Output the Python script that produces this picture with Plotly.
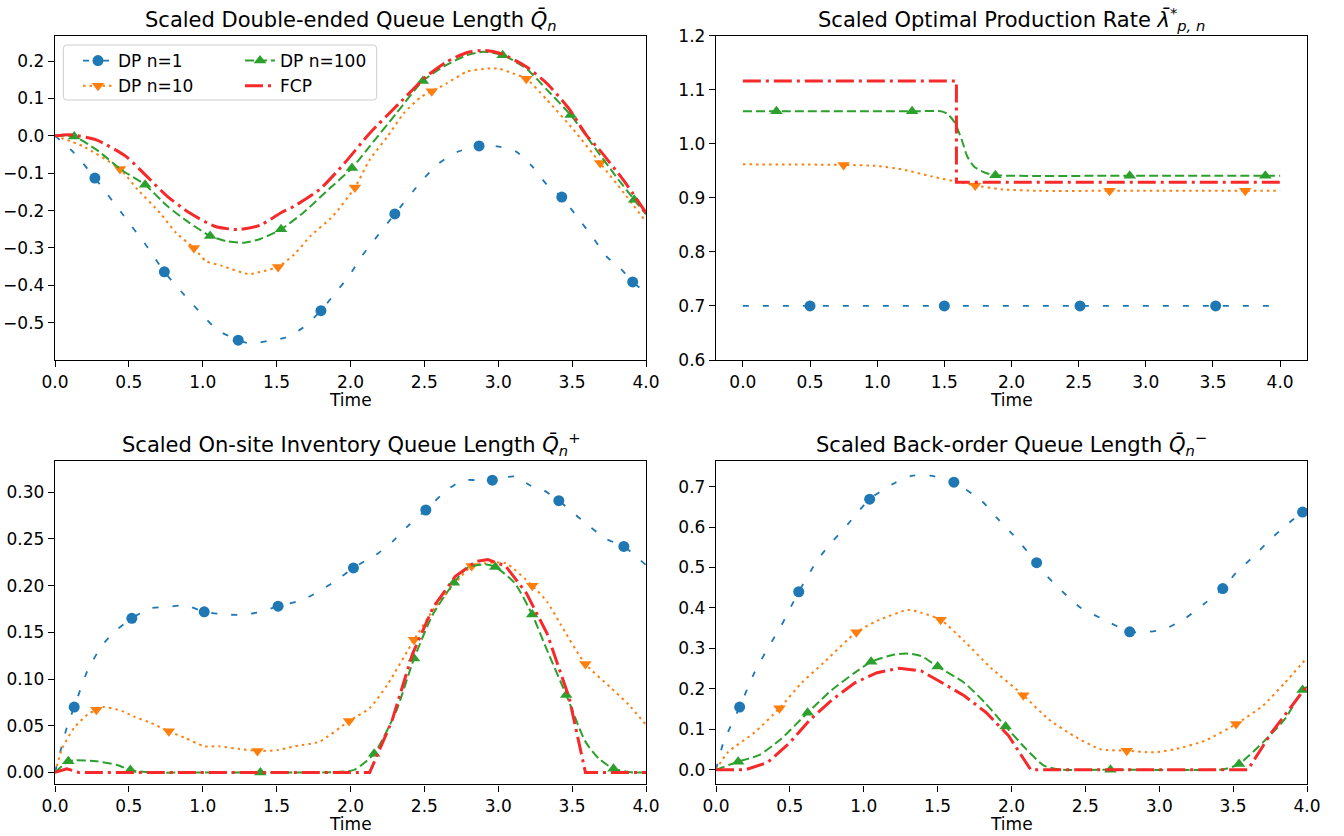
import plotly.graph_objects as go

# ---------------------------------------------------------------- data ----
# Scaled double-ended queue length  Q_n  (top left)
tl_n1_t = [0, 0.13, 0.27, 0.45, 0.62, 0.74, 0.9, 1.0, 1.1, 1.24, 1.33, 1.45, 1.56, 1.68, 1.8, 1.89,
           1.99, 2.08, 2.19, 2.3, 2.49, 2.6, 2.73, 2.87, 2.99, 3.12, 3.23, 3.33, 3.43, 3.53, 3.65,
           3.73, 3.83, 3.91, 4.0]
tl_n1_q = [0, -0.046, -0.113, -0.206, -0.295, -0.364, -0.437, -0.48, -0.52, -0.547, -0.557, -0.548,
           -0.54, -0.513, -0.468, -0.424, -0.375, -0.32, -0.264, -0.209, -0.117, -0.073, -0.042,
           -0.027, -0.028, -0.042, -0.082, -0.131, -0.164, -0.215, -0.277, -0.322, -0.356, -0.391,
           -0.42]
tl_n1_mark = [2, 5, 9, 14, 19, 23, 28, 33]

tl_n10_t = [0, 0.19, 0.44, 0.56, 0.71, 0.82, 0.94, 1.02, 1.13, 1.31, 1.39, 1.51, 1.62, 1.73, 1.88,
            2.03, 2.13, 2.25, 2.36, 2.48, 2.55, 2.65, 2.79, 2.93, 3.0, 3.1, 3.19, 3.33, 3.51, 3.69,
            3.85, 4.0]
tl_n10_q = [0, -0.028, -0.089, -0.144, -0.206, -0.26, -0.3, -0.335, -0.348, -0.37, -0.364, -0.351,
            -0.317, -0.268, -0.215, -0.138, -0.064, -0.002, 0.06, 0.105, 0.119, 0.14, 0.172, 0.18,
            0.18, 0.167, 0.153, 0.096, 0.016, -0.073, -0.153, -0.23]
tl_n10_mark = [2, 6, 11, 15, 20, 26, 29]

tl_n100_t = [0, 0.13, 0.28, 0.45, 0.61, 0.76, 0.91, 1.05, 1.16, 1.28, 1.39, 1.53, 1.68, 1.85, 2.01,
             2.13, 2.31, 2.49, 2.65, 2.79, 2.9, 3.03, 3.19, 3.33, 3.49, 3.65, 3.79, 3.92, 4.0]
tl_n100_q = [0, -0.002, -0.037, -0.091, -0.131, -0.188, -0.233, -0.268, -0.282, -0.286, -0.276,
             -0.25, -0.206, -0.144, -0.086, -0.028, 0.06, 0.147, 0.19, 0.216, 0.225, 0.216, 0.18,
             0.123, 0.056, -0.03, -0.105, -0.171, -0.21]
tl_n100_mark = [1, 4, 7, 11, 14, 17, 21, 24, 27]

tl_fcp_t = [0, 0.1, 0.28, 0.48, 0.62, 0.76, 0.91, 1.08, 1.24, 1.39, 1.53, 1.62, 1.79, 1.96, 2.13,
            2.33, 2.51, 2.65, 2.79, 2.9, 3.02, 3.19, 3.33, 3.48, 3.6, 3.68, 3.85, 4.0]
tl_fcp_q = [0, 0.003, -0.011, -0.055, -0.108, -0.162, -0.206, -0.242, -0.251, -0.239, -0.206,
            -0.188, -0.144, -0.073, 0.007, 0.087, 0.158, 0.198, 0.223, 0.229, 0.22, 0.185, 0.14,
            0.072, 0.0, -0.035, -0.12, -0.206]

# Scaled optimal production rate  lambda*_{p,n}  (top right)
tr_n1_t = [0, 0.5, 1.5, 2.51, 3.52, 4.0]
tr_n1_q = [0.7, 0.7, 0.7, 0.7, 0.7, 0.7]
tr_n1_mark = [1, 2, 3, 4]

tr_n10_t = [0, 0.75, 1.0, 1.2, 1.4, 1.59, 1.73, 1.92, 2.2, 2.73, 3.74, 4.0]
tr_n10_q = [0.962, 0.961, 0.959, 0.952, 0.94, 0.93, 0.923, 0.916, 0.913, 0.913, 0.913, 0.913]
tr_n10_mark = [1, 6, 9, 10]

tr_n100_t = [0, 0.25, 1.26, 1.48, 1.53, 1.58, 1.63, 1.67, 1.72, 1.8, 1.88, 2.88, 3.89, 4.0]
tr_n100_q = [1.06, 1.06, 1.06, 1.06, 1.054, 1.038, 1.007, 0.977, 0.958, 0.947, 0.942, 0.941,
             0.941, 0.941]
tr_n100_mark = [1, 2, 10, 11, 12]

tr_fcp_t = [0, 1.59, 1.59, 4.0]
tr_fcp_q = [1.116, 1.116, 0.929, 0.929]

# Scaled on-site inventory queue length  Q_n^+  (bottom left)
bl_n1_t = [0, 0.08, 0.13, 0.22, 0.31, 0.39, 0.52, 0.65, 0.76, 0.88, 1.01, 1.16, 1.28, 1.39, 1.51,
           1.68, 1.88, 2.02, 2.19, 2.29, 2.39, 2.51, 2.65, 2.76, 2.85, 2.96, 3.11, 3.22, 3.31,
           3.41, 3.56, 3.73, 3.85, 4.0]
bl_n1_q = [0, 0.048, 0.07, 0.109, 0.134, 0.149, 0.165, 0.176, 0.177, 0.179, 0.172, 0.169, 0.169,
           0.172, 0.178, 0.185, 0.203, 0.219, 0.235, 0.248, 0.264, 0.281, 0.302, 0.313, 0.313,
           0.313, 0.317, 0.307, 0.302, 0.291, 0.271, 0.25, 0.242, 0.222]
bl_n1_mark = [2, 6, 10, 14, 17, 21, 25, 29, 32]

bl_n10_t = [0, 0.05, 0.13, 0.22, 0.28, 0.33, 0.45, 0.53, 0.65, 0.77, 0.88, 1.01, 1.11, 1.25, 1.37,
            1.51, 1.62, 1.79, 1.99, 2.13, 2.25, 2.43, 2.56, 2.71, 2.82, 2.91, 3.05, 3.23, 3.33,
            3.42, 3.59, 3.76, 3.88, 4.0]
bl_n10_q = [0, 0.026, 0.048, 0.062, 0.067, 0.07, 0.066, 0.06, 0.053, 0.044, 0.037, 0.028, 0.028,
            0.025, 0.023, 0.024, 0.028, 0.033, 0.055, 0.069, 0.094, 0.142, 0.174, 0.203, 0.221,
            0.224, 0.224, 0.2, 0.183, 0.159, 0.116, 0.091, 0.073, 0.051]
bl_n10_mark = [4, 9, 14, 18, 21, 24, 27, 30]

bl_n100_t = [0, 0.09, 0.13, 0.28, 0.42, 0.51, 0.65, 1.0, 1.39, 1.8, 2.02, 2.16, 2.31, 2.43, 2.56,
             2.7, 2.79, 2.91, 2.98, 3.11, 3.23, 3.33, 3.46, 3.59, 3.68, 3.78, 3.91, 4.0]
bl_n100_q = [0, 0.012, 0.013, 0.012, 0.008, 0.0025, 0, 0, 0, 0, 0.0025, 0.02, 0.066, 0.122, 0.17,
             0.203, 0.219, 0.223, 0.22, 0.203, 0.169, 0.131, 0.083, 0.033, 0.015, 0.004, 0, 0]
bl_n100_mark = [1, 5, 8, 11, 13, 15, 18, 20, 22, 25]

bl_fcp_t = [0, 0.08, 0.16, 2.13, 2.28, 2.42, 2.56, 2.71, 2.85, 2.93, 3.05, 3.19, 3.33, 3.48, 3.59,
            4.0]
bl_fcp_q = [0, 0.004, 0, 0, 0.055, 0.127, 0.177, 0.21, 0.226, 0.228, 0.221, 0.192, 0.149, 0.08, 0,
            0]

# Scaled back-order queue length  Q_n^-  (bottom right)
br_n1_t = [0, 0.05, 0.16, 0.26, 0.36, 0.44, 0.56, 0.69, 0.79, 0.89, 1.04, 1.21, 1.33, 1.45, 1.61,
           1.8, 1.9, 2.01, 2.17, 2.23, 2.34, 2.47, 2.62, 2.8, 2.9, 3.03, 3.17, 3.3, 3.43, 3.52,
           3.64, 3.74, 3.85, 3.97, 4.0]
br_n1_q = [0, 0.067, 0.155, 0.24, 0.306, 0.355, 0.44, 0.52, 0.565, 0.606, 0.669, 0.709, 0.727,
           0.727, 0.711, 0.664, 0.623, 0.581, 0.512, 0.483, 0.442, 0.4, 0.372, 0.341, 0.34, 0.347,
           0.373, 0.409, 0.448, 0.487, 0.528, 0.565, 0.602, 0.637, 0.645]
br_n1_mark = [2, 6, 10, 14, 18, 23, 28, 33]

br_n10_t = [0, 0.08, 0.26, 0.43, 0.58, 0.73, 0.95, 1.09, 1.3, 1.39, 1.52, 1.68, 1.86, 2.08, 2.25,
            2.42, 2.6, 2.78, 2.96, 3.11, 3.31, 3.52, 3.7, 3.85, 4.0]
br_n10_q = [0, 0.043, 0.092, 0.152, 0.215, 0.265, 0.34, 0.368, 0.395, 0.388, 0.371, 0.318, 0.252,
            0.184, 0.125, 0.084, 0.051, 0.047, 0.043, 0.051, 0.072, 0.113, 0.158, 0.215, 0.277]
br_n10_mark = [3, 6, 10, 13, 17, 21]

br_n100_t = [0, 0.15, 0.29, 0.44, 0.62, 0.79, 0.94, 1.05, 1.21, 1.3, 1.39, 1.5, 1.68, 1.83, 1.96,
             2.1, 2.22, 2.34, 2.67, 3.4, 3.46, 3.54, 3.7, 3.85, 3.97, 4.0]
br_n100_q = [0, 0.02, 0.036, 0.076, 0.141, 0.199, 0.24, 0.267, 0.285, 0.287, 0.281, 0.255, 0.215,
             0.162, 0.107, 0.051, 0.01, 0, 0, 0, 0.003, 0.014, 0.067, 0.125, 0.197, 0.205]
br_n100_mark = [1, 4, 7, 11, 14, 18, 21, 24]

br_fcp_t = [0, 0.2, 0.35, 0.5, 0.64, 0.79, 0.94, 1.09, 1.24, 1.39, 1.53, 1.68, 1.83, 1.98, 2.13,
            3.6, 3.76, 4.0]
br_fcp_q = [0, 0, 0.018, 0.067, 0.125, 0.174, 0.215, 0.24, 0.251, 0.244, 0.215, 0.183, 0.141,
            0.084, 0, 0, 0.092, 0.207]

series_names = ["DP n=1", "DP n=10", "DP n=100", "FCP"]
titles = [
    "Scaled Double-ended Queue Length <i>Q̄</i><sub><i>n</i></sub>",
    "Scaled Optimal Production Rate <i>λ̄</i><sup>*</sup><sub><i>p, n</i></sub>",
    "Scaled On-site Inventory Queue Length <i>Q̄</i><sub><i>n</i></sub><sup>+</sup>",
    "Scaled Back-order Queue Length <i>Q̄</i><sub><i>n</i></sub><sup>−</sup>",
]
x_label = "Time"

# --------------------------------------------------------------- style ----
W, H = 1344, 836
FONT = "DejaVu Sans"
TICK_SIZE = 17
STYLE = {
    "DP n=1": dict(color="#1f77b4", dash="6px,14px", width=1.8, symbol="circle", size=11),
    "DP n=10": dict(color="#ff7f0e", dash="2.5px,4px", width=2.0, symbol="triangle-down", size=11),
    "DP n=100": dict(color="#2ca02c", dash="9px,4px", width=2.0, symbol="triangle-up", size=11),
    "FCP": dict(color="#f62a2a", dash="18px,5px,3px,5px", width=3.0, symbol=None, size=0),
}

# axes boxes in pixels: (left, right), (top, bottom)
COLS = [(55, 646), (716, 1307)]
ROWS = [(35.7, 360.0), (460.7, 784.3)]


def xdom(c):
    return [COLS[c][0] / W, COLS[c][1] / W]


def ydom(r):
    return [1 - ROWS[r][1] / H, 1 - ROWS[r][0] / H]


panels = [
    dict(r=0, c=0, xr=[0, 4], yr=[-0.600, 0.268], ytick=[-0.5, -0.4, -0.3, -0.2, -0.1, 0.0, 0.1, 0.2],
         yfmt=".1f",
         data=[(tl_n1_t, tl_n1_q, tl_n1_mark), (tl_n10_t, tl_n10_q, tl_n10_mark),
               (tl_n100_t, tl_n100_q, tl_n100_mark), (tl_fcp_t, tl_fcp_q, None)],
         shapes=["spline", "spline", "spline", "spline"]),
    dict(r=0, c=1, xr=[-0.2, 4.2], yr=[0.6, 1.2], ytick=[0.6, 0.7, 0.8, 0.9, 1.0, 1.1, 1.2],
         yfmt=".1f",
         data=[(tr_n1_t, tr_n1_q, tr_n1_mark), (tr_n10_t, tr_n10_q, tr_n10_mark),
               (tr_n100_t, tr_n100_q, tr_n100_mark), (tr_fcp_t, tr_fcp_q, None)],
         shapes=["linear", "spline", "spline", "linear"]),
    dict(r=1, c=0, xr=[0, 4], yr=[-0.0127, 0.3338], ytick=[0.0, 0.05, 0.10, 0.15, 0.20, 0.25, 0.30],
         yfmt=".2f",
         data=[(bl_n1_t, bl_n1_q, bl_n1_mark), (bl_n10_t, bl_n10_q, bl_n10_mark),
               (bl_n100_t, bl_n100_q, bl_n100_mark), (bl_fcp_t, bl_fcp_q, None)],
         shapes=["spline", "spline", "spline", "linear"]),
    dict(r=1, c=1, xr=[0, 4], yr=[-0.036, 0.764], ytick=[0.0, 0.1, 0.2, 0.3, 0.4, 0.5, 0.6, 0.7],
         yfmt=".1f",
         data=[(br_n1_t, br_n1_q, br_n1_mark), (br_n10_t, br_n10_q, br_n10_mark),
               (br_n100_t, br_n100_q, br_n100_mark), (br_fcp_t, br_fcp_q, None)],
         shapes=["spline", "spline", "spline", "linear"]),
]

fig = go.Figure()
annotations = []

for i, p in enumerate(panels):
    k = "" if i == 0 else str(i + 1)
    xa, ya = "x" + k, "y" + k
    for name, (t, q, mark), shp in zip(series_names, p["data"], p["shapes"]):
        st = STYLE[name]
        line = dict(color=st["color"], width=st["width"], dash=st["dash"])
        if shp == "spline":
            line["shape"] = "spline"
            line["smoothing"] = 0.6
        fig.add_trace(go.Scatter(x=t, y=q, mode="lines", line=line, xaxis=xa, yaxis=ya,
                                 showlegend=False, hoverinfo="skip"))
        if mark:
            fig.add_trace(go.Scatter(
                x=[t[j] for j in mark], y=[q[j] for j in mark], mode="markers",
                marker=dict(symbol=st["symbol"], size=st["size"], color=st["color"],
                            line=dict(width=0)),
                xaxis=xa, yaxis=ya, showlegend=False, hoverinfo="skip"))

    axis_common = dict(showline=True, linecolor="black", linewidth=1.4, mirror=True,
                       ticks="outside", ticklen=6, tickwidth=1.3, tickcolor="black",
                       showgrid=False, zeroline=False, automargin=False,
                       tickfont=dict(family=FONT, size=TICK_SIZE, color="black"))
    fig.layout["xaxis" + k] = dict(axis_common, domain=xdom(p["c"]), range=p["xr"],
                                   anchor=ya, tickmode="array",
                                   tickvals=[0, 0.5, 1, 1.5, 2, 2.5, 3, 3.5, 4],
                                   tickformat=".1f")
    fig.layout["yaxis" + k] = dict(axis_common, domain=ydom(p["r"]), range=p["yr"],
                                   anchor=xa, tickmode="array", tickvals=p["ytick"],
                                   tickformat=p["yfmt"])

    xc = (COLS[p["c"]][0] + COLS[p["c"]][1]) / 2 / W
    annotations.append(dict(text=titles[i], x=xc, y=ydom(p["r"])[1], xref="paper", yref="paper",
                            xanchor="center", yanchor="bottom", yshift=0, showarrow=False,
                            font=dict(family=FONT, size=21, color="black")))
    annotations.append(dict(text=x_label, x=xc, y=ydom(p["r"])[0], xref="paper", yref="paper",
                            xanchor="center", yanchor="top", yshift=-28, showarrow=False,
                            font=dict(family=FONT, size=TICK_SIZE, color="black")))

# legend entries (two columns) drawn in the top-left panel
for idx, name in enumerate(series_names):
    st = STYLE[name]
    fig.add_trace(go.Scatter(
        x=[None], y=[None], name=name,
        mode="lines+markers" if st["symbol"] else "lines",
        line=dict(color=st["color"], width=st["width"], dash=st["dash"]),
        marker=dict(symbol=st["symbol"] or "circle", size=st["size"] or 1, color=st["color"]),
        xaxis="x", yaxis="y", legend="legend" if idx in (0, 1) else "legend2"))

# rounded legend frame
lx0, lx1, ly0, ly1, rad = 63.3, 376.7, 45.0, 100.0, 3.5


def px(x):
    return x / W


def py(y):
    return 1 - y / H


frame = (f"M{px(lx0 + rad)},{py(ly0)} L{px(lx1 - rad)},{py(ly0)} "
         f"Q{px(lx1)},{py(ly0)} {px(lx1)},{py(ly0 + rad)} "
         f"L{px(lx1)},{py(ly1 - rad)} Q{px(lx1)},{py(ly1)} {px(lx1 - rad)},{py(ly1)} "
         f"L{px(lx0 + rad)},{py(ly1)} Q{px(lx0)},{py(ly1)} {px(lx0)},{py(ly1 - rad)} "
         f"L{px(lx0)},{py(ly0 + rad)} Q{px(lx0)},{py(ly0)} {px(lx0 + rad)},{py(ly0)} Z")

legend_common = dict(bgcolor="rgba(0,0,0,0)", borderwidth=0, orientation="v",
                     xanchor="left", yanchor="top", tracegroupgap=0,
                     font=dict(family=FONT, size=TICK_SIZE, color="black"))

fig.update_layout(
    width=W, height=H,
    margin=dict(l=0, r=0, t=0, b=0, autoexpand=False),
    paper_bgcolor="white", plot_bgcolor="white",
    font=dict(family=FONT, color="black"),
    annotations=annotations,
    shapes=[dict(type="path", path=frame, xref="paper", yref="paper", layer="above",
                 fillcolor="rgba(255,255,255,0.8)", line=dict(color="#cccccc", width=1))],
    legend=dict(legend_common, x=px(78), y=py(43)),
    legend2=dict(legend_common, x=px(240), y=py(43)),
    showlegend=True,
)

fig.write_html("out.html")
